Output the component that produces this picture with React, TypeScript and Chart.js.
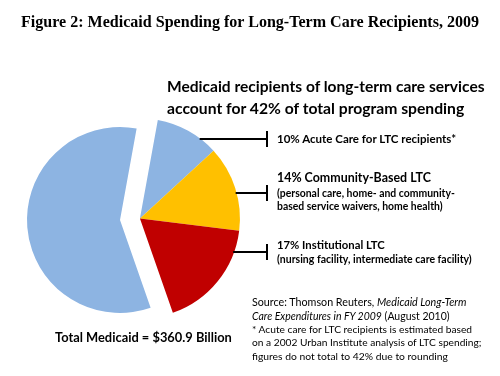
import React, { useEffect, useRef } from "react";
import { Chart, registerables } from "chart.js";

Chart.register(...registerables);

// ---- data ----
const categories = [
  "Acute Care for LTC recipients*",
  "Community-Based LTC",
  "Institutional LTC",
  "All other Medicaid spending",
];
const shares = [10.3, 13.8, 17.7, 58.2];
const sliceColors = ["#8DB4E2", "#FFC000", "#C00000", "#8DB4E2"];
const groupIndices = [0, 1, 2];
const percentLabels = ["10%", "14%", "17%"];
const detailLines: string[][] = [
  [],
  ["(personal care, home- and community-", "based service waivers, home health)"],
  ["(nursing facility, intermediate care facility)"],
];
const titleText = "Figure 2: Medicaid Spending for Long-Term Care Recipients, 2009";
const subtitleLines = [
  "Medicaid recipients of long-term care services",
  "account for 42% of total program spending",
];
const totalText = "Total Medicaid = $360.9 Billion";
const sourceParts = [
  [["Source: Thomson Reuters, ", false], ["Medicaid Long-Term", true]],
  [["Care Expenditures in FY 2009", true], [" (August 2010)", false]],
] as [string, boolean][][];
const footnoteLines = [
  "* Acute care for LTC recipients is estimated based",
  "on a 2002 Urban Institute analysis of LTC spending;",
  "figures do not total to 42% due to rounding",
];

// ---- layout / style constants ----
const W = 500;
const H = 376;
const EXPLODE = 20;
const GROUP_SCALE = 100 / 93;
const LEADER_END_X = 267;
const LEADER_YS = [139, 193, 252];
const LABEL_X = 277;
const FONT_SANS = "Lato, 'Open Sans', sans-serif";
const FONT_SERIF = "'Liberation Serif', 'DejaVu Serif', serif";

const labelCenters = [[138.5], [178.3, 193.3, 206.3], [244, 258.5]];
const labelWidths = [[180], [154, 178, 166], [108, 195]];
const sourceCenters = [302, 315.5, 329, 342.5, 356];
const sourceWidths = [215, 198, 221, 230, 196];

let measureCtx: CanvasRenderingContext2D | null = null;
function fitSize(parts: [string, boolean][], weight: number, family: string, target: number) {
  if (!measureCtx) measureCtx = document.createElement("canvas").getContext("2d");
  const base = 20;
  let w = 0;
  for (const [t, it] of parts) {
    measureCtx!.font = `${it ? "italic " : ""}${weight} ${base}px ${family}`;
    w += measureCtx!.measureText(t).width;
  }
  return (base * target) / w;
}

const explodePlugin = {
  id: "explodeGroup",
  afterDatasetUpdate(chart: any, args: any) {
    const els = args.meta.data;
    if (!els || els.length < shares.length) return;
    const first = els[groupIndices[0]];
    const last = els[groupIndices[groupIndices.length - 1]];
    const mid = (first.startAngle + last.endAngle) / 2;
    const dx = Math.cos(mid) * EXPLODE;
    const dy = Math.sin(mid) * EXPLODE;
    groupIndices.forEach((i) => {
      const el = els[i];
      el.x += dx;
      el.y += dy;
      el.outerRadius *= GROUP_SCALE;
    });
  },
  afterDatasetsDraw(chart: any) {
    const els = chart.getDatasetMeta(0).data;
    const ctx = chart.ctx;
    ctx.save();
    ctx.strokeStyle = "#000";
    ctx.lineWidth = 2;
    groupIndices.forEach((i, k) => {
      const el = els[i];
      const y = LEADER_YS[k];
      const d = y - el.y;
      const x0 = el.x + Math.sqrt(Math.max(0, el.outerRadius * el.outerRadius - d * d)) - 1;
      ctx.beginPath();
      ctx.moveTo(x0, y);
      ctx.lineTo(LEADER_END_X, y);
      ctx.moveTo(LEADER_END_X, y - 8);
      ctx.lineTo(LEADER_END_X, y + 8);
      ctx.stroke();
    });
    ctx.restore();
  },
};

function PieChart() {
  const ref = useRef<HTMLCanvasElement | null>(null);
  useEffect(() => {
    if (!ref.current) return;
    const chart = new Chart(ref.current, {
      type: "pie",
      data: {
        labels: categories,
        datasets: [
          {
            data: shares,
            backgroundColor: sliceColors,
            borderWidth: 0,
            clip: false as any,
          },
        ],
      },
      options: {
        responsive: false,
        animation: false,
        rotation: 10.3,
        layout: { padding: { left: 27, top: 127, right: W - 213, bottom: H - 313 } },
        plugins: {
          legend: { display: false },
          tooltip: { enabled: false },
          title: { display: false },
        },
      },
      plugins: [explodePlugin],
    });
    return () => chart.destroy();
  }, []);
  return (
    <canvas
      ref={ref}
      width={W}
      height={H}
      style={{ position: "absolute", left: 0, top: 0, width: W, height: H }}
    />
  );
}

function Line({ x, cy, width, bold, parts, family = FONT_SANS, center }: any) {
  const weight = bold ? 700 : 400;
  const size = fitSize(parts, weight, family, width);
  const lh = Math.round(size * 1.3);
  return (
    <div
      style={{
        position: "absolute",
        left: center ? x - width / 2 : x,
        top: cy - lh / 2,
        lineHeight: lh + "px",
        fontSize: size,
        fontWeight: weight,
        fontFamily: family,
        whiteSpace: "nowrap",
        color: "#000",
      }}
    >
      {parts.map(([t, it]: [string, boolean], j: number) =>
        it ? <i key={j}>{t}</i> : <span key={j}>{t}</span>
      )}
    </div>
  );
}

export default function App() {
  return (
    <div
      style={{
        position: "fixed",
        left: 0,
        top: 0,
        width: W,
        height: H,
        background: "#fff",
        overflow: "hidden",
      }}
    >
      <PieChart />
      <Line x={250.5} center cy={21} width={459} bold family={FONT_SERIF} parts={[[titleText, false]]} />
      <Line x={167} cy={86} width={318} bold parts={[[subtitleLines[0], false]]} />
      <Line x={167} cy={108} width={298} bold parts={[[subtitleLines[1], false]]} />
      {groupIndices.map((i, k) => (
        <React.Fragment key={i}>
          <Line
            x={LABEL_X}
            cy={labelCenters[k][0]}
            width={labelWidths[k][0]}
            bold
            parts={[[percentLabels[k] + " " + categories[i], false]]}
          />
          {detailLines[k].map((t, j) => (
            <Line
              key={j}
              x={LABEL_X}
              cy={labelCenters[k][j + 1]}
              width={labelWidths[k][j + 1]}
              bold
              parts={[[t, false]]}
            />
          ))}
        </React.Fragment>
      ))}
      {sourceParts.map((p, j) => (
        <Line key={"s" + j} x={252} cy={sourceCenters[j]} width={sourceWidths[j]} parts={p} />
      ))}
      {footnoteLines.map((t, j) => (
        <Line
          key={"f" + j}
          x={252}
          cy={sourceCenters[j + 2]}
          width={sourceWidths[j + 2]}
          parts={[[t, false]]}
        />
      ))}
      <Line x={55} cy={337} width={177} bold parts={[[totalText, false]]} />
    </div>
  );
}
